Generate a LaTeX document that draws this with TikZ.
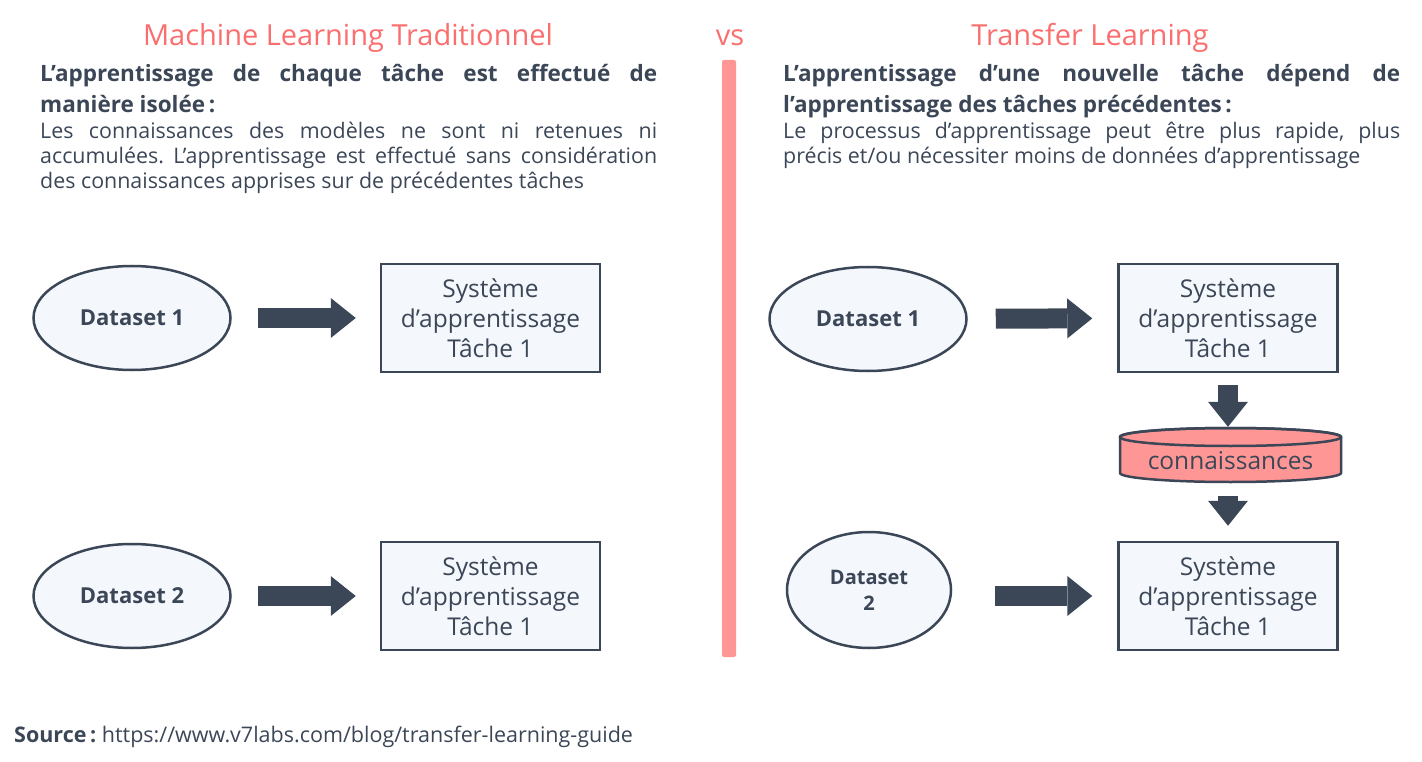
\documentclass[tikz,border=0pt]{standalone}
\usepackage{fontspec}
\setmainfont{Open Sans}
\usetikzlibrary{shapes.geometric, arrows.meta}
\definecolor{ink}{HTML}{3B4657}
\definecolor{salmon}{HTML}{FA6E6E}
\definecolor{rose}{HTML}{FF9696}
\definecolor{pale}{HTML}{F4F7FC}
\frenchspacing

\begin{document}
\begin{tikzpicture}[x=1pt, y=-1pt,
  title/.style={anchor=base, text=salmon, font=\fontsize{29}{30}\selectfont},
  lead/.style={anchor=north west, inner sep=0, text width=617pt, align=justify,
    text=ink, font=\bfseries\fontsize{22.5}{31}\selectfont},
  body/.style={anchor=north west, inner sep=0, text width=617pt, align=justify,
    text=ink, font=\fontsize{21.4}{25}\selectfont},
  data/.style={ellipse, draw=ink, fill=pale, line width=2.5pt, inner sep=0,
    text=ink, align=center, font=\bfseries\fontsize{22}{26}\selectfont,
    minimum width=197pt, minimum height=104pt},
  sys/.style={draw=ink, fill=pale, line width=2.5pt, text=ink, align=center,
    font=\fontsize{24.5}{30}\selectfont, minimum width=219pt, minimum height=108pt},
  fat/.style={draw=ink, line width=20pt,
    -{Triangle[length=25pt, width=40pt, line width=0pt 0]}},
]
  \useasboundingbox (0,0) rectangle (1422,762);

  % titles
  \node [title] (ltitle) at (348,46) {Machine Learning Traditionnel};
  \node [title] (vs) at (730,46) {vs};
  \node [title] (rtitle) at (1090,46) {Transfer Learning};

  % divider
  \fill [rose, rounded corners=2pt] (722,60) rectangle (736,657);

  % left texts
  \node [lead] (llead) at (40,64) {L’apprentissage de chaque tâche est effectué de\linebreak
    manière isolée\,:};
  \node [body] (lbody) at (40,122) {Les connaissances des modèles ne sont ni retenues ni\linebreak
    accumulées. L’apprentissage est effectué sans considération\linebreak
    des connaissances apprises sur de précédentes tâches};

  % right texts
  \node [lead] (rlead) at (783,64) {L’apprentissage d’une nouvelle tâche dépend de\linebreak
    l’apprentissage des tâches précédentes\,:};
  \node [body] (rbody) at (783,122) {Le processus d’apprentissage peut être plus rapide, plus\linebreak
    précis et/ou nécessiter moins de données d’apprentissage};

  % left: each task learnt alone
  \foreach \n/\y in {1/318, 2/596}{
    \node [data] (ldata\n) at (132,\y) {Dataset~\n};
    \node [sys] (lsys\n) at (490.5,\y) {Système\\d’apprentissage\\Tâche 1};
    \draw [fat, shorten <=26pt, shorten >=24pt] (ldata\n) -- (lsys\n);
  }

  % right: transfer
  \node [data] (rdata1) at (868,319) {Dataset~1};
  \node [sys] (rsys1) at (1228,318) {Système\\d’apprentissage\\Tâche 1};
  \node [data, minimum width=164pt, minimum height=116pt,
    font=\bfseries\fontsize{20}{26}\selectfont] (rdata2) at (869,590) {Dataset\\2};
  \node [sys] (rsys2) at (1228,596) {Système\\d’apprentissage\\Tâche 1};

  % knowledge store
  \path [fill=rose, draw=ink, line width=2.5pt]
    (1120,437) -- (1120,473)
    arc [start angle=180, end angle=360, x radius=110.5pt, y radius=9pt] --
    (1341,437)
    arc [start angle=0, end angle=180, x radius=110.5pt, y radius=9pt] -- cycle;
  \draw [ink, line width=2.5pt] (1230.5,437) ellipse [x radius=110.5pt, y radius=9pt];
  \node [text=ink, font=\fontsize{24.5}{26}\selectfont, minimum width=221pt,
    minimum height=54pt, inner sep=0] (know) at (1230.5,461) {connaissances};

  \draw [fat, shorten <=28pt, shorten >=25pt] (rdata1) -- (rsys1);
  \draw [fat, shorten <=12pt, shorten >=7pt] (rsys1.south) -- (rsys1.south |- know.north);
  \draw [fat, shorten <=8pt, shorten >=15pt] (rsys2.north |- know.south) -- (rsys2.north);
  \draw [fat, shorten <=43pt, shorten >=25pt] (rdata2.east |- rsys2.west) -- (rsys2.west);

  % source
  \node [anchor=base west, inner sep=0, text=ink, font=\fontsize{21.5}{24}\selectfont] (src) at (14,742)
    {\textbf{Source\,:} https://www.v7labs.com/blog/transfer-learning-guide};
\end{tikzpicture}
\end{document}
